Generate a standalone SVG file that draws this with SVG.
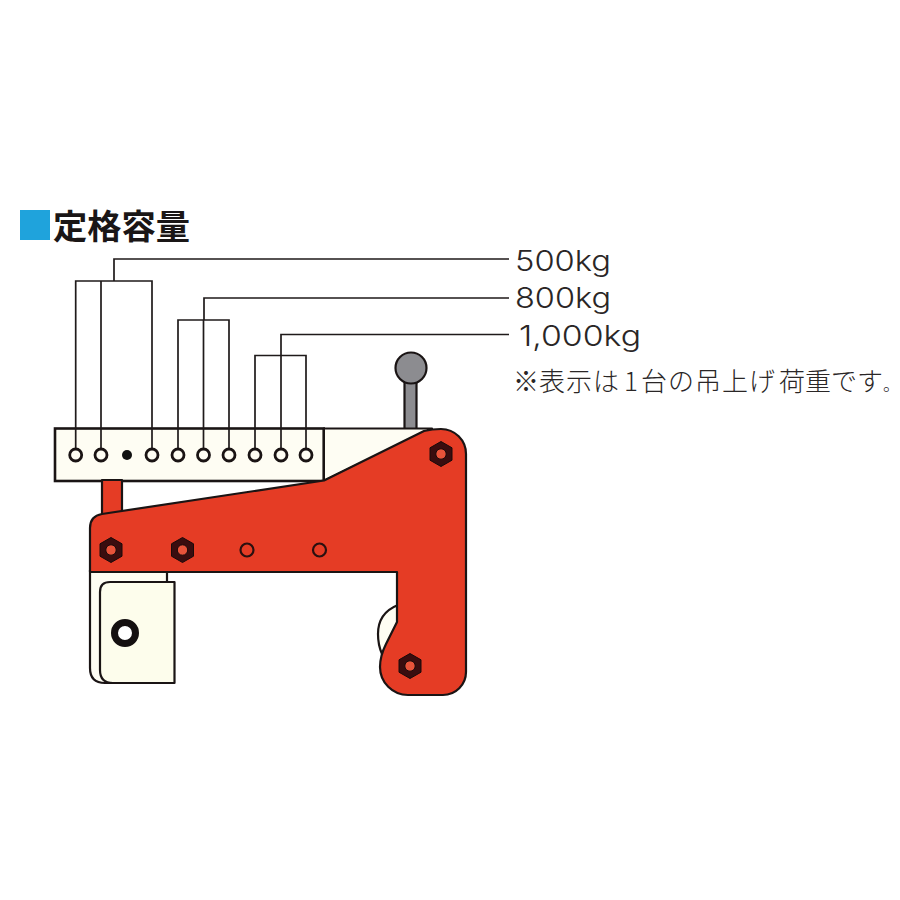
<svg xmlns="http://www.w3.org/2000/svg" width="900" height="900" viewBox="0 0 900 900">
<style>
.o{stroke:#1a1414;stroke-width:2.2;stroke-linejoin:round}
.l{fill:none;stroke:#1f1a1a;stroke-width:1.7}
.cream{fill:#fdfdec}
.pale{fill:#fefdf3}
.red{fill:#e53c25}
.nut{fill:#3a0d0f;stroke:#1a0a0a;stroke-width:1}
.nc{fill:#e8533a;stroke:#1a0a0a;stroke-width:1}
.ring{fill:#e53c25;stroke:#2a1010;stroke-width:2.200}
.hole{fill:#fefdf3;stroke:#1a1414;stroke-width:2.800}
.lab{font-family:Inter,"Noto Sans",sans-serif;font-weight:300;fill:#2a2626;font-size:29px}
.note{font-family:"Noto Sans CJK JP",sans-serif;font-weight:300;fill:#2a2626;font-size:26px}
</style>
<defs>
<g id="n"><polygon class="nut" points="0,-12.500 11,-6.200 11,6.200 0,12.500 -11,6.200 -11,-6.200"/><circle class="nc" r="5.200"/></g>
</defs>
<rect width="900" height="900" fill="#fff"/>
<g id="title">
<rect x="20" y="210" width="30" height="30" fill="#1fa3dc"/>
<text x="53" y="239" font-family="'Noto Sans CJK JP',sans-serif" font-weight="700" font-size="34" fill="#1a1616" textLength="137" lengthAdjust="spacingAndGlyphs">定格容量</text>
</g>
<g id="lever">
<rect x="404.500" y="380" width="12" height="49" fill="#8c8c90" class="o"/>
<circle cx="411" cy="368" r="15.500" fill="#8c8c90" class="o"/>
</g>
<g id="plate">
<path class="o pale" d="M323.700 428.500H432L323.700 481Z"/>
<rect x="55" y="428.500" width="268.700" height="52.500" class="pale" stroke="#1a1414" stroke-width="2.600"/>
</g>
<g id="connectors">
<path class="l" d="M114 281V259H509"/>
<path class="l" d="M75.700 455V281H152V455M101 281V455"/>
<path class="l" d="M204 320V298H509"/>
<path class="l" d="M178 455V320H229V455M203.500 320V455"/>
<path class="l" d="M281 355V334.500H509"/>
<path class="l" d="M255 455V355.500H306V455M281 355V455"/>
</g>
<g id="holes">
<circle class="hole" cx="75.700" cy="455" r="6"/>
<circle class="hole" cx="101" cy="455" r="6"/>
<circle cx="127" cy="455" r="5" fill="#111"/>
<circle class="hole" cx="152" cy="455" r="6"/>
<circle class="hole" cx="178" cy="455" r="6"/>
<circle class="hole" cx="203.500" cy="455" r="6"/>
<circle class="hole" cx="229" cy="455" r="6"/>
<circle class="hole" cx="255" cy="455" r="6"/>
<circle class="hole" cx="281" cy="455" r="6"/>
<circle class="hole" cx="306" cy="455" r="6"/>
</g>
<g id="jaw">
<path class="o pale" d="M90 570V668Q90 683 105 683H167V570Z"/>
<path class="o cream" d="M100 592Q100 582 110 582H174.500V683H113Q100 683 100 670Z"/>
<circle cx="125" cy="633" r="10.500" fill="#fff" stroke="#141010" stroke-width="7"/>
</g>
<g id="roller">
<path class="o pale" d="M398 605Q378 613 378 634Q378 645 382 654L398 630Z"/>
</g>
<g id="stem">
<rect x="102" y="480" width="20" height="36" class="o red"/>
</g>
<g id="body">
<path class="o red" d="M90 528Q90 516 102 514L324 480.500L424 431Q432 429 441 429A25 25 0 0 1 466 454V672A23 23 0 0 1 443 695H408A28 28 0 0 1 380 667Q380 656 386 644L397 622V572H90Z"/>
<use href="#n" x="111" y="550"/>
<use href="#n" x="182.500" y="550"/>
<circle class="ring" cx="247" cy="550" r="6.500"/>
<circle class="ring" cx="319.500" cy="550" r="6.500"/>
<use href="#n" x="441" y="454"/>
<use href="#n" x="410" y="666"/>
</g>
<g id="labels">
<text class="lab" x="515" y="271" textLength="96" lengthAdjust="spacingAndGlyphs">500kg</text>
<text class="lab" x="515" y="308" textLength="96" lengthAdjust="spacingAndGlyphs">800kg</text>
<text class="lab" x="519" y="346" textLength="122" lengthAdjust="spacingAndGlyphs">1,000kg</text>
<text class="note" y="391"><tspan x="513 539 566 593 624 641 668 695 722 749 779 805 831 857">※表示は1台の吊上げ荷重です</tspan><tspan x="883" font-size="17">。</tspan></text>
</g>
</svg>
